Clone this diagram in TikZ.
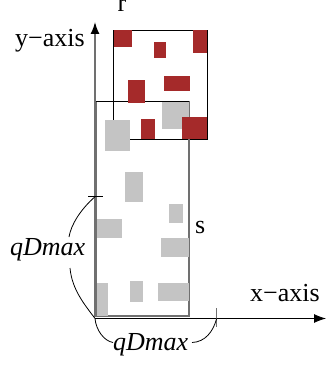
\documentclass[tikz,border=0pt]{standalone}
\usepackage{fontspec}
\setmainfont{Liberation Serif}
\usetikzlibrary{arrows.meta}
\definecolor{redbox}{HTML}{A52A2A}
\definecolor{graybox}{HTML}{C4C4C4}
\definecolor{axisgray}{HTML}{707070}
\begin{document}
\begin{tikzpicture}[x=1pt,y=-1pt,
  lbl/.style={inner sep=0pt,anchor=base west,font=\fontsize{26}{30}\selectfont},
  rbox/.style={fill=redbox},
  gbox/.style={fill=graybox},
  brace/.style={line width=0.8pt,black}]
\useasboundingbox (0,0) rectangle (327,366);
% outlines
\draw[black,line width=0.9pt] (113.5,30) rectangle (207.3,139);
\draw[axisgray,line width=1.3pt] (96,316) -- (96,101.5) (189,101.5) -- (189,316) -- (96,316);
\draw[black,line width=0.9pt] (96,101.5) -- (189,101.5);
% gray boxes
\fill[gbox] (162.3,101.7) rectangle (188.7,129);
\fill[gbox] (105.3,120) rectangle (130,151);
\fill[gbox] (124.7,171.7) rectangle (142.7,201.7);
\fill[gbox] (169,203.7) rectangle (183.3,222.7);
\fill[gbox] (96.7,219) rectangle (121.7,238.3);
\fill[gbox] (161,238.3) rectangle (188.7,257.3);
\fill[gbox] (96.7,282.7) rectangle (108.3,316);
\fill[gbox] (130,280.7) rectangle (143.3,301.7);
\fill[gbox] (158,283.3) rectangle (189,300.7);
% red boxes
\fill[rbox] (113.7,30) rectangle (132.3,46.7);
\fill[rbox] (154.3,41.7) rectangle (166,58.3);
\fill[rbox] (193.3,30) rectangle (207.3,53.3);
\fill[rbox] (128.3,80) rectangle (145,103.5);
\fill[rbox] (164,76) rectangle (190.3,91);
\fill[rbox] (141,119.3) rectangle (155.3,139);
\fill[rbox] (181.7,116.7) rectangle (207.3,139.3);
% axes
\coordinate (O) at (95,318.5);
\coordinate (ytip) at (95,22);
\coordinate (xtip) at (326,318.5);
\draw[axisgray,line width=1.4pt,-{Latex[length=12pt,width=9pt,black]}] (95,317) -- (ytip);
\draw[black,line width=0.9pt,-{Latex[length=12pt,width=9pt]}] (O) -- (xtip);
% ticks
\coordinate (yt) at (95,196.7);
\coordinate (xt) at (216.7,318.5);
\draw[black,line width=0.9pt] (88.3,196.7) -- (103.3,196.7);
\draw[axisgray,line width=1.2pt] (216.7,308.3) -- (216.7,327.3);
% labels
\node[lbl] (r) at (117.5,11.5) {r};
\node[lbl] (ylab) at (15,47) {y−axis};
\node[lbl] (s) at (195,233) {s};
\node[lbl] (xlab) at (250,301) {x−axis};
\node[lbl] (q1) at (10,255) {\itshape qDmax};
\node[lbl] (q2) at (113,350) {\itshape qDmax};
% braces
\draw[brace] (yt) .. controls (80,210) and (71,225) .. (69,237);
\draw[brace] (70,268) .. controls (72,290) and (85,305) .. (O);
\draw[brace] (O) .. controls (96,330) and (104,341) .. (113,342.5);
\draw[brace] (192,342.5) .. controls (205,342) and (213,332) .. (xt);
\end{tikzpicture}
\end{document}
